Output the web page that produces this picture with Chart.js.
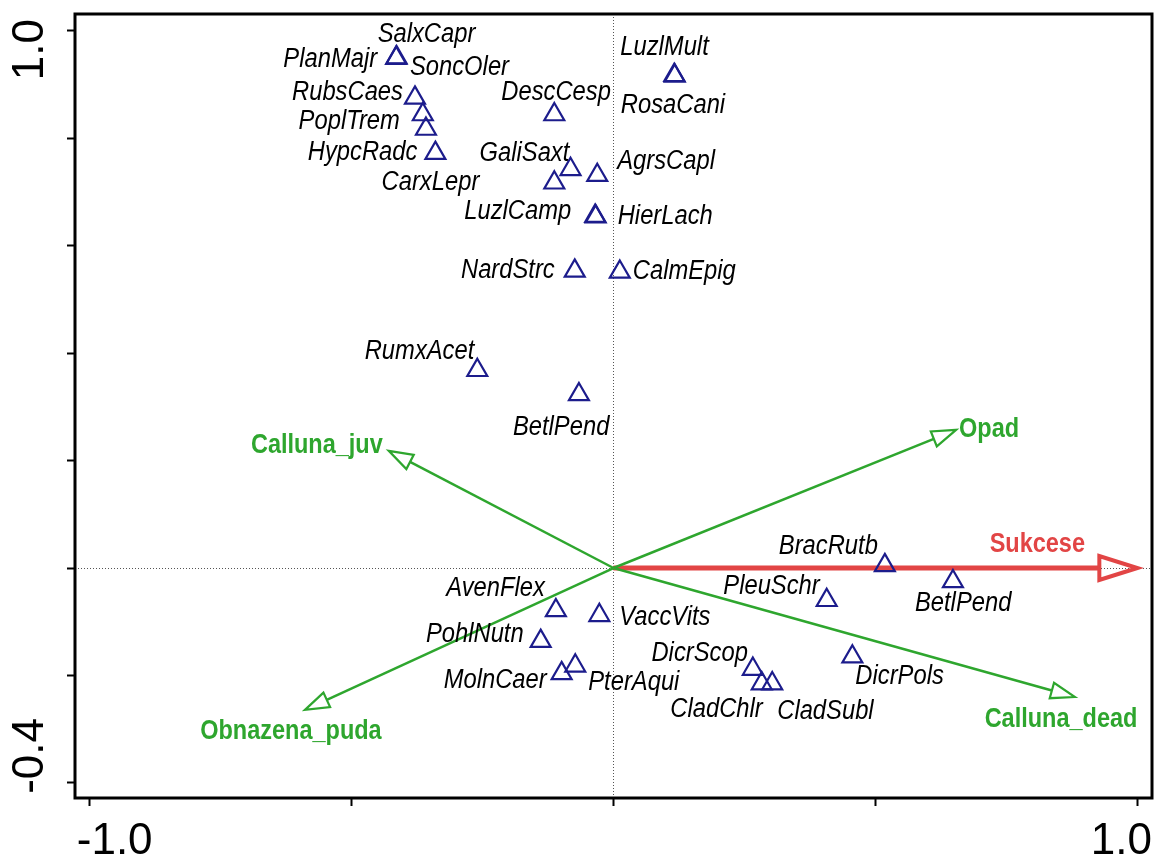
<!DOCTYPE html>
<html>
<head>
<meta charset="utf-8">
<script src="https://cdn.jsdelivr.net/npm/chart.js@4.4.0/dist/chart.umd.min.js"></script>
<style>
  html, body { margin: 0; padding: 0; background: #fff; }
  #wrap { width: 1155px; height: 861px; }
</style>
</head>
<body>
<div id="wrap"><canvas id="cca" width="1155" height="861"></canvas></div>
<script>
// species scores
const speciesNames = [
  'SalxCapr', 'PlanMajr', 'SoncOler', 'RubsCaes', 'PoplTrem', 'HypcRadc',
  'CarxLepr', 'LuzlMult', 'RosaCani', 'DescCesp', 'GaliSaxt', 'AgrsCapl',
  'LuzlCamp', 'HierLach', 'NardStrc', 'CalmEpig', 'RumxAcet', 'BetlPend',
  'AvenFlex', 'VaccVits', 'PohlNutn', 'MolnCaer', 'PterAqui', 'BracRutb',
  'BetlPend', 'PleuSchr', 'DicrPols', 'DicrScop', 'CladChlr', 'CladSubl'
];
const speciesX = [
  -0.414, -0.415, -0.358, -0.379, -0.364, -0.340,
  -0.113, 0.116, 0.117, -0.113, -0.082, -0.031,
  -0.035, -0.034, -0.074, 0.012, -0.260, -0.066,
  -0.110, -0.027, -0.139, -0.099, -0.073, 0.518,
  0.648, 0.407, 0.456, 0.266, 0.283, 0.303
];
const speciesY = [
  0.950, 0.949, 0.817, 0.875, 0.844, 0.772,
  0.717, 0.917, 0.916, 0.844, 0.742, 0.731,
  0.655, 0.654, 0.553, 0.551, 0.368, 0.323,
  -0.079, -0.088, -0.136, -0.196, -0.182, 0.005,
  -0.025, -0.060, -0.165, -0.188, -0.215, -0.215
];

// environmental variables (arrow tips)
const envNames = ['Sukcese', 'Opad', 'Calluna_juv', 'Calluna_dead', 'Obnazena_puda'];
const envX = [1.0, 0.654, -0.429, 0.881, -0.589];
const envY = [0.0, 0.257, 0.218, -0.240, -0.264];

const xTicks = [-1.0, -0.5, 0, 0.5, 1.0];
const yTicks = [-0.4, -0.2, 0, 0.2, 0.4, 0.6, 0.8, 1.0];
const xTickLabels = ['-1.0', '1.0'];
const xTickLabelAt = [-1.0, 1.0];
const yTickLabels = ['-0.4', '1.0'];
const yTickLabelAt = [-0.4, 1.0];

// label placement in pixels relative to the marker: [align, dx, dy]
const speciesLabelPos = [
  ['left', -19, -23], ['right', -19, 1], ['left', -16, -62], ['right', -12, -5],
  ['right', -23, 7], ['right', -18, -1], ['right', -75, 0], ['left', -54, -28],
  ['left', -54, 30], ['left', -53, -22], ['left', -91, -16], ['left', 20, -14],
  ['right', -24, -5], ['left', 22, 0], ['right', -20, 0], ['left', 13, 0],
  ['right', -3, -19], ['left', -66, 33], ['right', -11, -22], ['left', 20, 2],
  ['right', -17, -7], ['right', -15, 7], ['left', 13, 17], ['right', -7, -19],
  ['left', -38, 22], ['right', -7, -14], ['left', 3, 20], ['right', -5, -16],
  ['right', 1, 26], ['left', 5, 28]
];
const envLabelPos = [
  ['center', -100, -23], ['left', 3, 0], ['right', -6, -5],
  ['center', -14, 23], ['center', -14, 22]
];
const envStyle = [
  { color: '#e24545', width: 5, head: 38, half: 12 },
  { color: '#2ea62e', width: 2.5, head: 24, half: 8 },
  { color: '#2ea62e', width: 2.5, head: 24, half: 8 },
  { color: '#2ea62e', width: 2.5, head: 24, half: 8 },
  { color: '#2ea62e', width: 2.5, head: 24, half: 8 }
];

const FONT = '"Liberation Sans", Arial, sans-serif';

function drawText(ctx, text, x, y, align, font, color, sx) {
  ctx.save();
  ctx.translate(x, y);
  ctx.scale(sx, 1);
  ctx.font = font;
  ctx.fillStyle = color;
  ctx.textAlign = align;
  ctx.textBaseline = 'middle';
  ctx.fillText(text, 0, 0);
  ctx.restore();
}

const biplotLayer = {
  id: 'biplotLayer',
  beforeDatasetsDraw(chart) {
    const { ctx, scales: { x, y } } = chart;
    const ox = x.getPixelForValue(0);
    const oy = y.getPixelForValue(0);
    ctx.save();
    ctx.lineJoin = 'miter';
    envNames.forEach((n, i) => {
      const tx = x.getPixelForValue(envX[i]);
      const ty = y.getPixelForValue(envY[i]);
      const st = envStyle[i];
      const len = Math.hypot(tx - ox, ty - oy);
      const ux = (tx - ox) / len, uy = (ty - oy) / len;
      const bx = tx - ux * st.head, by = ty - uy * st.head;
      ctx.strokeStyle = st.color;
      ctx.lineWidth = st.width;
      ctx.beginPath();
      ctx.moveTo(ox, oy);
      ctx.lineTo(bx, by);
      ctx.stroke();
      ctx.lineWidth = st.width > 3 ? 4 : 2.2;
      ctx.beginPath();
      ctx.moveTo(tx, ty);
      ctx.lineTo(bx - uy * st.half, by + ux * st.half);
      ctx.lineTo(bx + uy * st.half, by - ux * st.half);
      ctx.closePath();
      ctx.stroke();
    });
    ctx.restore();
  },
  afterDatasetsDraw(chart) {
    const { ctx, scales: { x, y } } = chart;
    speciesNames.forEach((n, i) => {
      const p = speciesLabelPos[i];
      drawText(ctx, n, x.getPixelForValue(speciesX[i]) + p[1], y.getPixelForValue(speciesY[i]) + p[2],
        p[0], 'italic 27px ' + FONT, '#000', 0.88);
    });
    envNames.forEach((n, i) => {
      const p = envLabelPos[i];
      drawText(ctx, n, x.getPixelForValue(envX[i]) + p[1], y.getPixelForValue(envY[i]) + p[2],
        p[0], 'bold 27px ' + FONT, envStyle[i].color, 0.87);
    });
  },
  afterDraw(chart) {
    const { ctx, chartArea: a, scales: { x, y } } = chart;
    ctx.save();
    ctx.strokeStyle = '#000';
    ctx.lineWidth = 3;
    ctx.strokeRect(a.left, a.top, a.right - a.left, a.bottom - a.top);
    ctx.restore();
    // tick labels (only the extremes are labelled)
    xTickLabels.forEach((t, i) => {
      const px = x.getPixelForValue(xTickLabelAt[i]) + (i === 0 ? 25 : -16);
      drawText(ctx, t, px, a.bottom + 44, 'center', '44px ' + FONT, '#000', 1);
    });
    yTickLabels.forEach((t, i) => {
      const py = y.getPixelForValue(yTickLabelAt[i]) + (i === 0 ? -27 : 19);
      ctx.save();
      ctx.translate(a.left - 44, py);
      ctx.rotate(-Math.PI / 2);
      drawText(ctx, t, 0, 0, 'center', '44px ' + FONT, '#000', 1);
      ctx.restore();
    });
  }
};

const zeroGrid = (c) => (c.tick && c.tick.value === 0 ? '#555' : 'rgba(0,0,0,0)');

new Chart(document.getElementById('cca'), {
  type: 'scatter',
  data: {
    datasets: [{
      label: 'species',
      data: speciesX.map((v, i) => ({ x: v, y: speciesY[i] })),
      pointStyle: 'triangle',
      pointRadius: 11.5,
      borderWidth: 2.2,
      borderColor: '#1c1c8c',
      backgroundColor: 'rgba(0,0,0,0)'
    }]
  },
  options: {
    responsive: false,
    animation: false,
    events: [],
    layout: { autoPadding: false, padding: { top: 14, right: 3, left: 0, bottom: 0 } },
    plugins: { legend: { display: false }, tooltip: { enabled: false } },
    scales: {
      x: {
        type: 'linear',
        min: -1.028,
        max: 1.028,
        afterBuildTicks: (s) => { s.ticks = xTicks.map(v => ({ value: v })); },
        afterFit: (s) => { s.height = 63; },
        ticks: { display: false },
        border: { display: false, dash: [1, 2] },
        grid: { color: zeroGrid, lineWidth: 1, tickColor: '#000', tickLength: 8, tickWidth: 2 }
      },
      y: {
        type: 'linear',
        min: -0.428,
        max: 1.031,
        afterBuildTicks: (s) => { s.ticks = yTicks.map(v => ({ value: v })); },
        afterFit: (s) => { s.width = 75; },
        ticks: { display: false },
        border: { display: false, dash: [1, 2] },
        grid: { color: zeroGrid, lineWidth: 1, tickColor: '#000', tickLength: 8, tickWidth: 2 }
      }
    }
  },
  plugins: [biplotLayer]
});
</script>
</body>
</html>
